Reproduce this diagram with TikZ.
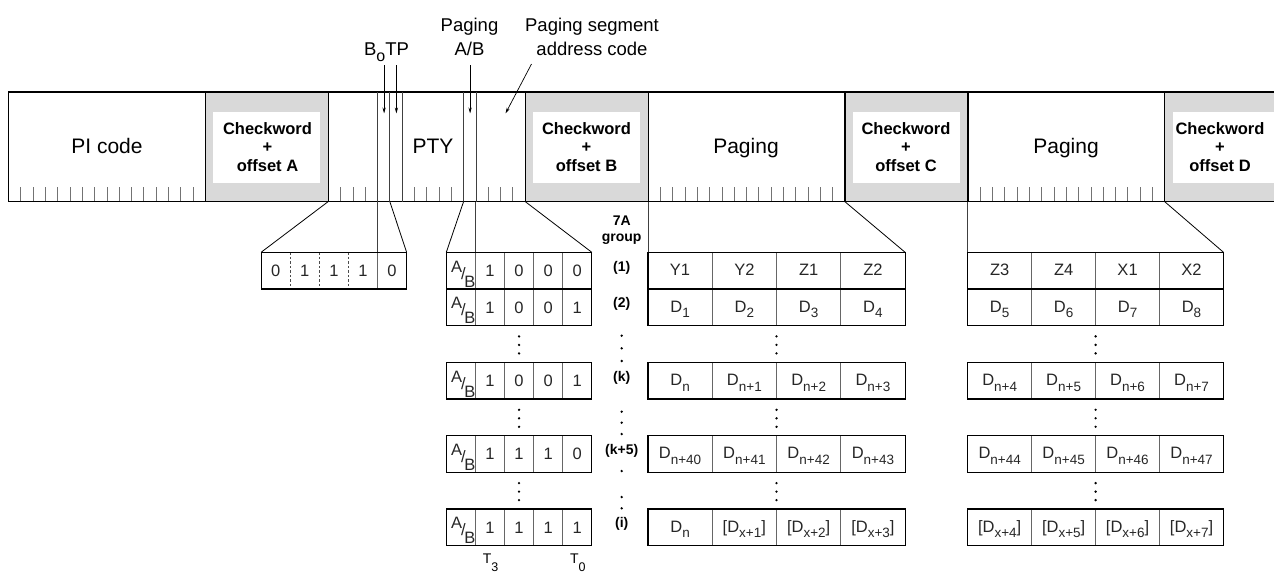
\documentclass[tikz,border=0pt]{standalone}
\usepackage{fontspec}
\setmainfont{Liberation Sans}
\usetikzlibrary{arrows.meta}
\newcommand\lsub[1]{\raisebox{-5.5pt}{\fontsize{13.5}{14}\selectfont #1}}
\newcommand\abrow[6]{%
  \pgfmathsetmacro\yT{252.3+#1*36.67}%
  \pgfmathsetmacro\yC{\yT+18.33}%
  \draw[sep] (475.4,\yT) -- ++(0,36.67) (504.5,\yT) -- ++(0,36.67) (533.6,\yT) -- ++(0,36.67) (562.7,\yT) -- ++(0,36.67);
  \draw[tbl] (446.3,\yT) rectangle (591.8,\yT+36.67);
  \node[cell,anchor=base] (abA#1) at (456.6,\yC+1.5) {A};
  \node[cell,anchor=base] (abS#1) at (463.4,\yC+8.5) {/};
  \node[cell,anchor=base] (abB#1) at (469.8,\yC+16.5) {B};
  \node[cell,anchor=base] (abc#1a) at (489.95,\yC+6) {#2};
  \node[cell,anchor=base] (abc#1b) at (519.05,\yC+6) {#3};
  \node[cell,anchor=base] (abc#1c) at (548.15,\yC+6) {#4};
  \node[cell,anchor=base] (abc#1d) at (577.25,\yC+6) {#5};
  \node[grp] (grp#1) at (621.7,\yC-3) {#6};
}
% #1 name, #2 x0, #3 col width, #4 slot, #5-#8 contents
\newcommand\drow[8]{%
  \pgfmathsetmacro\yT{252.3+#4*36.67}%
  \pgfmathsetmacro\yC{\yT+18.33}%
  \draw[sep] (#2+#3,\yT) -- ++(0,36.67) (#2+2*#3,\yT) -- ++(0,36.67) (#2+3*#3,\yT) -- ++(0,36.67);
  \draw[tbl] (#2,\yT) rectangle (#2+4*#3,\yT+36.67);
  \node[cell,anchor=base] (#1#4a) at (#2+0.5*#3,\yC+5) {#5};
  \node[cell,anchor=base] (#1#4b) at (#2+1.5*#3,\yC+5) {#6};
  \node[cell,anchor=base] (#1#4c) at (#2+2.5*#3,\yC+5) {#7};
  \node[cell,anchor=base] (#1#4d) at (#2+3.5*#3,\yC+5) {#8};
}
\newcommand\tdots[2]{\fill (#1,#2-8.5) circle (1.3pt) (#1,#2) circle (1.3pt) (#1,#2+8.5) circle (1.3pt);}
\begin{document}
\begin{tikzpicture}[x=1pt,y=-1pt,
  bar/.style={line width=1.4pt},
  blk/.style={line width=1.2pt},
  tick/.style={line width=0.8pt, black!55},
  divline/.style={line width=0.8pt, black!75},
  conn/.style={line width=0.8pt, black},
  lbl/.style={font=\fontsize{18.5}{23}\selectfont, inner sep=0pt},
  biglbl/.style={font=\fontsize{21}{24}\selectfont, inner sep=0pt, anchor=base},
  cwlbl/.style={font=\bfseries\fontsize{16.5}{18.5}\selectfont, align=center, inner sep=0pt},
  cell/.style={font=\fontsize{16.5}{18}\selectfont, text=black!85, inner sep=0pt},
  grp/.style={font=\bfseries\fontsize{14}{16}\selectfont, align=center, inner sep=0pt},
  tbl/.style={line width=1.2pt},
  sep/.style={line width=0.8pt, black!60},
  arr/.style={-{Stealth[length=6pt,width=3.2pt]}, line width=0.7pt},
]
\useasboundingbox (0,0) rectangle (1274,571);
\def\bw{12.3}
\def\yt{92}
\def\yb{201.5}
% ---- blocks of the bar
\foreach \k in {0,1,2,3}{
  \pgfmathsetmacro\bs{8.5+26*\bw*\k}
  \pgfmathsetmacro\cs{\bs+16*\bw}
  \pgfmathsetmacro\ce{\cs+10*\bw}
  \fill[black!15] (\cs,\yt) rectangle (\ce,\yb);
  \fill[white] (\cs+8,112) rectangle (\ce-8,183);
  \foreach \i in {1,...,15}{ \draw[tick] (\bs+\i*\bw,187) -- (\bs+\i*\bw,\yb); }
  \draw[blk] (\cs,\yt) -- (\cs,\yb);
  \draw[blk] (\ce,\yt) -- (\ce,\yb);
}
\draw[bar] (8.5,\yb) -- (8.5,\yt) -- (1274,\yt);
\draw[bar] (8.5,\yb) -- (1274,\yb);
% ---- long bit lines in block B
\foreach \b in {4,5,6,11,12}{ \draw[divline] (328.3+\b*\bw,\yt) -- (328.3+\b*\bw,\yb); }
% ---- texts in bar
\node[biglbl] (pi) at (107,153.5) {PI code};
\node[biglbl] (pty) at (433,153.5) {PTY};
\node[biglbl] (pg1) at (746,153.5) {Paging};
\node[biglbl] (pg2) at (1066,153.5) {Paging};
\node[cwlbl] (cwA) at (267.5,147) {Checkword\\+\\offset A};
\node[cwlbl] (cwB) at (586.5,147) {Checkword\\+\\offset B};
\node[cwlbl] (cwC) at (906,147) {Checkword\\+\\offset C};
\node[cwlbl] (cwD) at (1220,147) {Checkword\\+\\offset D};
% ---- labels above
\node[lbl,anchor=base] (botp) at (386.5,55) {B\raisebox{-6pt}{\fontsize{16}{16}\selectfont o}TP};
\node[lbl,anchor=base] (pagab1) at (469.5,31) {Paging};
\node[lbl,anchor=base] (pagab2) at (469.5,55) {A/B};
\node[lbl,anchor=base] (psac1) at (592,31) {Paging segment};
\node[lbl,anchor=base] (psac2) at (592,55) {address code};
% arrows
\coordinate (b0s) at (384.1,65); \coordinate (b0e) at (384.1,113.5);
\coordinate (tps) at (396.4,65); \coordinate (tpe) at (396.4,113.5);
\coordinate (abs) at (470.1,65); \coordinate (abe) at (470.1,113.5);
\coordinate (pss) at (531.5,64); \coordinate (pse) at (505.5,113.5);
\draw[arr] (b0s) -- (b0e);
\draw[arr] (tps) -- (tpe);
\draw[arr] (abs) -- (abe);
\draw[arr] (pss) -- (pse);
% ---- small table (group code + B0)
\draw[sep] (377.5,252.3) -- ++(0,36.67);
\draw[line width=0.7pt, black!70, dash pattern=on 2.5pt off 2pt] (290.2,252.3) -- ++(0,36.67) (319.3,252.3) -- ++(0,36.67) (348.4,252.3) -- ++(0,36.67);
\draw[tbl] (261.1,252.3) rectangle (406.6,289);
\node[cell,anchor=base] (s1) at (275.65,276.6) {0};
\node[cell,anchor=base] (s2) at (304.75,276.6) {1};
\node[cell,anchor=base] (s3) at (333.85,276.6) {1};
\node[cell,anchor=base] (s4) at (362.95,276.6) {1};
\node[cell,anchor=base] (s5) at (392.05,276.6) {0};
% connectors to small table
\coordinate (cBl) at (328.3,\yb); \coordinate (stl) at (261.1,252.3);
\coordinate (c4) at (377.5,\yb);  \coordinate (st4) at (377.5,252.3);
\coordinate (c5) at (389.8,\yb);  \coordinate (str) at (406.6,252.3);
\draw[conn] (cBl) -- (stl);
\draw[divline] (c4) -- (st4);
\draw[conn] (c5) -- (str);
% ---- A/B table
\abrow{0}{1}{0}{0}{0}{(1)}
\abrow{1}{1}{0}{0}{1}{(2)}
\abrow{3}{1}{0}{0}{1}{(k)}
\abrow{5}{1}{1}{1}{0}{(k+5)}
\abrow{7}{1}{1}{1}{1}{(i)}
\node[grp] (grphead) at (621.7,230) {7A\\group};
\coordinate (c11) at (463.6,\yb); \coordinate (atl) at (446.3,252.3);
\coordinate (c12) at (475.4,\yb); \coordinate (at1) at (475.4,252.3);
\coordinate (cBr) at (525.1,\yb); \coordinate (atr) at (591.8,252.3);
\draw[conn] (c11) -- (atl);
\draw[divline] (c12) -- (at1);
\draw[conn] (cBr) -- (atr);
\node[font=\fontsize{14}{14}\selectfont, anchor=base, inner sep=0pt] (t3) at (490.5,563.5) {T\raisebox{-8pt}{\fontsize{12.5}{13}\selectfont 3}};
\node[font=\fontsize{14}{14}\selectfont, anchor=base, inner sep=0pt] (t0) at (577.8,563.5) {T\raisebox{-8pt}{\fontsize{12.5}{13}\selectfont 0}};
% dots
\tdots{519.05}{344.9}
\tdots{519.05}{418.3}
\tdots{519.05}{491.6}
\fill (621.7,335.7) circle (1.3pt) (621.7,348.3) circle (1.3pt) (621.7,361) circle (1.3pt);
\fill (621.7,411.7) circle (1.3pt) (621.7,422.7) circle (1.3pt) (621.7,434) circle (1.3pt);
\fill (621.7,471) circle (1.3pt) (621.7,497) circle (1.3pt) (621.7,508.3) circle (1.3pt);
% ---- D tables
\drow{L}{647.9}{64.3}{0}{Y1}{Y2}{Z1}{Z2}
\drow{L}{647.9}{64.3}{1}{D\lsub{1}}{D\lsub{2}}{D\lsub{3}}{D\lsub{4}}
\drow{L}{647.9}{64.3}{3}{D\lsub{n}}{D\lsub{n+1}}{D\lsub{n+2}}{D\lsub{n+3}}
\drow{L}{647.9}{64.3}{5}{D\lsub{n+40}}{D\lsub{n+41}}{D\lsub{n+42}}{D\lsub{n+43}}
\drow{L}{647.9}{64.3}{7}{D\lsub{n}}{[D\lsub{x+1}]}{[D\lsub{x+2}]}{[D\lsub{x+3}]}
\drow{R}{967.7}{63.95}{0}{Z3}{Z4}{X1}{X2}
\drow{R}{967.7}{63.95}{1}{D\lsub{5}}{D\lsub{6}}{D\lsub{7}}{D\lsub{8}}
\drow{R}{967.7}{63.95}{3}{D\lsub{n+4}}{D\lsub{n+5}}{D\lsub{n+6}}{D\lsub{n+7}}
\drow{R}{967.7}{63.95}{5}{D\lsub{n+44}}{D\lsub{n+45}}{D\lsub{n+46}}{D\lsub{n+47}}
\drow{R}{967.7}{63.95}{7}{[D\lsub{x+4}]}{[D\lsub{x+5}]}{[D\lsub{x+6}]}{[D\lsub{x+7}]}
\tdots{776.5}{344.9}\tdots{776.5}{418.3}\tdots{776.5}{491.6}
\tdots{1095.6}{344.9}\tdots{1095.6}{418.3}\tdots{1095.6}{491.6}
\coordinate (cLl) at (647.9,\yb); \coordinate (dLl) at (647.9,252.3);
\coordinate (cLr) at (844.7,\yb); \coordinate (dLr) at (905.1,252.3);
\coordinate (cRl) at (967.7,\yb); \coordinate (dRl) at (967.7,252.3);
\coordinate (cRr) at (1164.5,\yb); \coordinate (dRr) at (1223.5,252.3);
\draw[divline] (cLl) -- (dLl);
\draw[conn] (cLr) -- (dLr);
\draw[divline] (cRl) -- (dRl);
\draw[conn] (cRr) -- (dRr);
\end{tikzpicture}
\end{document}
